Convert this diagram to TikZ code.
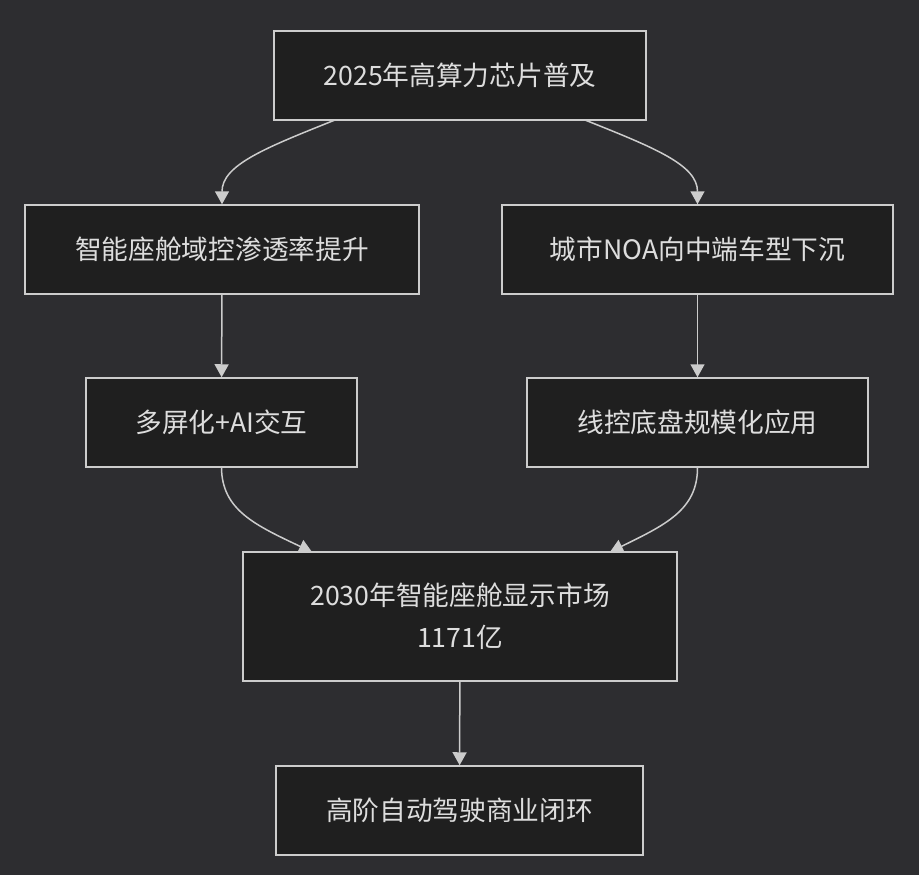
\documentclass[tikz,border=0pt]{standalone}
\usepackage{fontspec}
\setmainfont{Noto Sans CJK SC}
\usetikzlibrary{arrows.meta}

\definecolor{bgcol}{HTML}{2D2D30}
\definecolor{boxcol}{HTML}{1F1F1F}
\definecolor{linecol}{HTML}{CCCCCC}
\definecolor{txtcol}{HTML}{DDDDDD}

\tikzset{
  stagebox/.style={draw=linecol,fill=boxcol,line width=1.5pt,text=txtcol,
    font=\fontsize{26.7}{42}\selectfont,align=center,inner sep=0pt,minimum height=89pt},
  flowline/.style={draw=linecol,line width=1.5pt,-{Triangle[width=14pt,length=13pt]}}
}

\begin{document}
\begin{tikzpicture}[x=1pt,y=-1pt]
	\fill[bgcol] (0,0) rectangle (919,875);
	\useasboundingbox (0,0) rectangle (919,875);
	
	% boxes
	\node[stagebox,minimum width=372pt] (chip) at (460,75.5) {2025年高算力芯片普及};
	\node[stagebox,minimum width=394pt] (cockpit) at (222,249.5) {智能座舱域控渗透率提升};
	\node[stagebox,minimum width=391pt] (noa) at (697.5,249.5) {城市NOA向中端车型下沉};
	\node[stagebox,minimum width=271pt] (screen) at (221.5,422.5) {多屏化+AI交互};
	\node[stagebox,minimum width=341pt] (wire) at (697.5,422.5) {线控底盘规模化应用};
	\node[stagebox,minimum width=434pt,minimum height=129pt] (market) at (460,616.5) {2030年智能座舱显示市场\\1171亿};
	\node[stagebox,minimum width=367pt] (drive) at (459.5,810.5) {高阶自动驾驶商业闭环};
	
	% connectors
	\coordinate (chipL) at (335,120);
	\coordinate (chipR) at (585,120);
	\coordinate (marketL) at (312,552);
	\coordinate (marketR) at (610,552);
	\draw[flowline] (chipL) .. controls (265,148) and (222,165) .. (cockpit.north);
	\draw[flowline] (chipR) .. controls (655,148) and (697.5,165) .. (noa.north);
	\draw[flowline] (cockpit) -- (screen);
	\draw[flowline] (noa) -- (wire);
	\draw[flowline] (screen.south) .. controls (222,510) and (255,525) .. (marketL);
	\draw[flowline] (wire.south) .. controls (697.5,510) and (665,525) .. (marketR);
	\draw[flowline] (market) -- (drive);
\end{tikzpicture}
\end{document}
